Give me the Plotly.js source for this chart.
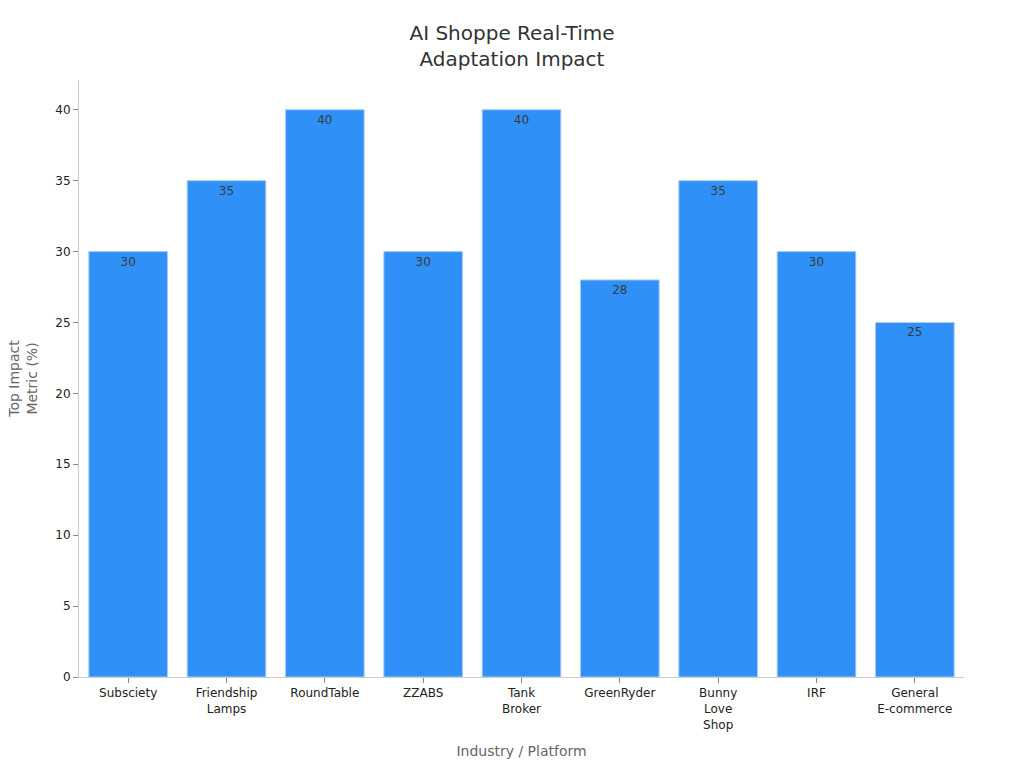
<!DOCTYPE html>
<html>
<head>
<meta charset="utf-8">
<script src="https://cdn.plot.ly/plotly-3.0.1.min.js"></script>
<style>
  html, body { margin: 0; padding: 0; background: #fff; }
  #chart { width: 1024px; height: 768px; }
</style>
</head>
<body>
<div id="chart"></div>
<script>
// Chart data
const platforms = [
  'Subsciety', 'Friendship<br>Lamps', 'RoundTable', 'ZZABS', 'Tank<br>Broker',
  'GreenRyder', 'Bunny<br>Love<br>Shop', 'IRF', 'General<br>E-commerce'
];
const impactValues = [30, 35, 40, 30, 40, 28, 35, 30, 25];

const chartEl = document.getElementById('chart');

Plotly.newPlot(
  chartEl,
  [
    {
      type: 'bar',
      x: platforms,
      y: impactValues,
      text: impactValues.map(String),
      textposition: 'inside',
      insidetextanchor: 'end',
      textfont: { color: '#3a3a3a', size: 12 },
      marker: { color: '#2f91f8', line: { color: '#a9cdf3', width: 1 } },
      hoverinfo: 'x+y'
    }
  ],
  {
    width: 1024,
    height: 768,
    margin: { l: 79, r: 60, t: 80, b: 91 },
    paper_bgcolor: '#ffffff',
    plot_bgcolor: '#ffffff',
    font: { family: 'DejaVu Sans, sans-serif', color: '#222222', size: 12 },
    title: {
      text: 'AI Shoppe Real-Time<br>Adaptation Impact',
      font: { size: 20, color: '#333333' },
      x: 0.5,
      xanchor: 'center',
      y: 0.948,
      yanchor: 'middle'
    },
    bargap: 0.2,
    showlegend: false,
    xaxis: {
      title: { text: 'Industry / Platform', font: { size: 14, color: '#666666' }, standoff: 15 },
      showline: true,
      linecolor: '#cccccc',
      ticks: 'outside',
      ticklen: 5,
      tickcolor: '#888888',
      showgrid: false,
      tickfont: { size: 12, color: '#222222' }
    },
    yaxis: {
      title: { text: 'Top Impact<br>Metric (%)', font: { size: 14, color: '#666666' }, standoff: 14 },
      range: [0, 42.1],
      dtick: 5,
      showline: true,
      linecolor: '#cccccc',
      ticks: 'outside',
      ticklen: 5,
      tickcolor: '#888888',
      showgrid: false,
      zeroline: false,
      tickfont: { size: 12, color: '#222222' }
    }
  },
  { displayModeBar: false }
);
</script>
</body>
</html>
